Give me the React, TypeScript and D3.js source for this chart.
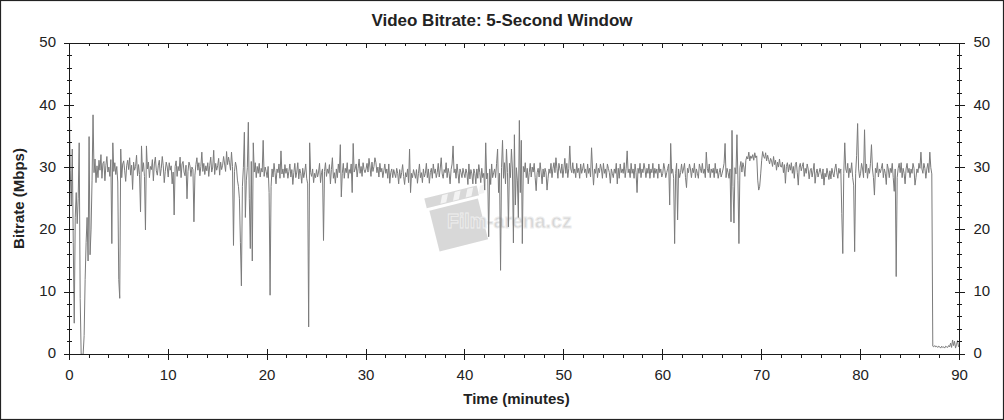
import React from "react";
import * as d3 from "d3";

// Video bitrate (Mbps), one value per 0.1 minute, from 0.0 to 90.0 minutes
const stepMinutes = 0.1;
const bitrateMbps: number[] = [
  40, 29.5, 24, 33, 18, 5, 22, 26, 21, 25,
  34, 9, 0, 0, 0, 3, 12, 18, 22, 15,
  35, 16, 20, 28, 38.5, 29.2, 31.4, 27.6, 30.3, 28.4,
  31.2, 29.6, 32.1, 28.3, 30.7, 31.0, 27.9, 30.4, 31.8, 29.3,
  30.1, 28.6, 31.3, 17.8, 34, 29.4, 30.8, 28.9, 30.2, 27.7,
  12, 9, 33, 28.4, 30.6, 31.1, 29.5, 27.8, 30.3, 31.2,
  29.7, 31.6, 28.8, 30.4, 26.5, 30.9, 29.6, 30.2, 32.0, 28.7,
  30.5, 28.9, 22.9, 33.5, 29.4, 30.8, 28.6, 20, 33.5, 29.8,
  30.9, 28.4, 30.2, 29.7, 31.3, 27.9, 30.6, 31.7, 29.5, 28.8,
  30.4, 31.2, 28.7, 29.9, 31.8, 30.3, 27.6, 29.4, 30.9, 30.1,
  28.5, 30.8, 29.6, 30.3, 27.4, 29.3, 22.4, 30.2, 31.1, 28.6,
  30.2, 29.5, 31.7, 28.4, 30.6, 31.0, 29.3, 28.7, 30.4, 25,
  29.4, 30.9, 30.3, 28.6, 30.1, 29.7, 21.3, 28.8, 30.5, 31.6,
  29.6, 30.8, 28.7, 30.2, 32.5, 29.4, 30.7, 28.9, 30.3, 29.5,
  30.8, 28.6, 30.4, 31.7, 29.3, 30.1, 32.8, 28.9, 30.7, 29.6,
  30.3, 31.5, 28.8, 30.9, 29.7, 30.4, 31.8, 30.6, 29.4, 32.6,
  30.5, 31.7, 30.8, 29.6, 32.5, 30.2, 17.5, 29.4, 30.9, 30.1,
  28, 27, 25, 18, 11, 27, 30, 35.7, 22, 28,
  30, 37.3, 25, 17, 31, 15, 34, 29.3, 30.8, 28.4,
  30.2, 29.1, 30.7, 28.5, 29.9, 29.3, 34.4, 28.6, 30.1, 29.4,
  28.4, 30.2, 26, 9.5, 27, 29.8, 28.5, 30.7, 29.2, 27.4,
  29.8, 29.2, 30.6, 28.3, 32.7, 29.0, 29.8, 28.4, 30.5, 29.1,
  29.9, 28.3, 29.4, 30.6, 28.5, 29.7, 27.3, 29.2, 30.7, 28.4,
  29.3, 30.8, 28.2, 29.8, 29.1, 27.5, 29.9, 28.4, 29.3, 30.6,
  28.3, 27.4, 4.4, 34, 29.2, 28.6, 29.8, 27.6, 29.1, 28.4,
  29.7, 28.5, 29.3, 30.7, 27.6, 29.2, 29.8, 18.3, 29.4, 30.8,
  28.6, 29.8, 29.1, 30.5, 27.4, 29.7, 31.6, 28.3, 29.2, 27.5,
  29.8, 28.4, 30.6, 29.2, 33.7, 25.3, 29.1, 30.7, 28.3, 29.9,
  29.2, 30.8, 28.3, 29.7, 29.1, 30.6, 26, 33.9, 29.3, 29.8,
  30.6, 28.5, 29.9, 31.4, 29.1, 30.2, 28.6, 30.8, 29.7, 29.2,
  29.8, 30.7, 29.3, 31.5, 30.1, 28.6, 30.9, 29.4, 30.2, 31.6,
  30.8, 29.2, 30.1, 28.5, 30.7, 29.3, 29.9, 28.4, 29.5, 30.6,
  29.1, 29.8, 28.3, 30.6, 27.5, 29.2, 29.8, 28.4, 29.7, 29.0,
  28.4, 29.9, 29.1, 27.4, 29.7, 28.3, 29.2, 30.5, 28.6, 27.3,
  29.2, 28.5, 29.8, 27.6, 33, 26, 29.1, 28.4, 29.7, 29.0,
  28.3, 29.7, 27.5, 29.1, 30.6, 28.4, 29.2, 27.6, 29.8, 28.5,
  29.1, 30.7, 28.4, 29.8, 27.5, 29.2, 29.9, 28.3, 30.6, 29.1,
  29.8, 28.4, 29.2, 30.7, 28.5, 29.8, 31.6, 29.0, 28.3, 29.7,
  29.2, 30.8, 28.4, 29.9, 29.1, 27.4, 29.7, 30.6, 33.5, 29.2,
  29.8, 28.3, 30.6, 29.1, 27.5, 29.8, 29.2, 28.4, 29.9, 29.1,
  28.4, 29.8, 29.1, 27.3, 30.6, 28.2, 29.7, 29.0, 27.4, 29.8,
  29.1, 27.4, 29.8, 28.3, 30.5, 29.2, 27.6, 29.9, 28.4, 29.1,
  26.4, 34, 28.2, 29.1, 18.9, 29.8, 27.3, 30.6, 28.4, 29.2,
  29.8, 28.4, 30.7, 33, 26, 29.1, 13.5, 30, 34.4, 28.3,
  30.8, 27.4, 33, 29.2, 20.5, 30.7, 28.4, 33, 29.8, 17.9,
  35.3, 24, 30, 28, 22, 37.6, 26, 34.4, 17.8, 30.2,
  29.3, 30.8, 28.4, 29.9, 27.4, 29.2, 30.7, 28.5, 30.1, 29.3,
  30.7, 28.4, 26.3, 29.2, 29.9, 28.5, 30.8, 29.3, 27.4, 29.8,
  28.5, 29.9, 29.2, 26.4, 28.3, 29.8, 29.1, 30.7, 28.4, 29.9,
  30.8, 29.2, 31.6, 29.9, 28.3, 30.7, 29.8, 29.1, 30.6, 28.4,
  29.8, 31.5, 29.1, 30.7, 28.4, 29.9, 33.5, 29.8, 29.2, 30.8,
  29.1, 29.8, 28.4, 30.7, 29.2, 29.9, 28.3, 30.6, 29.1, 29.8,
  30.7, 29.2, 29.8, 28.4, 30.6, 29.1, 29.9, 28.5, 33.2, 29.8,
  27.2, 29.8, 29.1, 30.7, 28.4, 29.9, 29.2, 30.6, 29.8, 28.3,
  30.7, 29.1, 29.8, 28.4, 30.6, 29.9, 29.2, 27.5, 29.8, 29.1,
  28.4, 29.8, 29.1, 30.7, 27.4, 29.9, 28.3, 30.6, 29.2, 29.8,
  29.1, 30.8, 28.4, 29.9, 32.7, 29.2, 29.8, 28.4, 30.7, 29.1,
  29.8, 28.3, 30.6, 29.2, 26, 29.9, 29.1, 30.7, 28.4, 29.8,
  29.2, 30.7, 29.8, 28.4, 29.9, 29.1, 30.6, 28.3, 29.8, 29.2,
  30.7, 28.4, 29.9, 29.1, 29.8, 28.3, 30.6, 29.2, 29.8, 28.5,
  29.1, 30.7, 29.8, 28.4, 29.2, 29.9, 30.6, 24, 33.9, 29.1,
  29.8, 28.3, 17.8, 29.1, 30.7, 21.6, 29.8, 28.4, 29.2, 30.6,
  29.1, 29.8, 30.7, 28.4, 26.8, 29.9, 29.2, 30.6, 29.8, 28.4,
  29.9, 29.2, 30.7, 28.4, 29.8, 29.1, 28.3, 30.6, 29.9, 29.2,
  30.7, 29.1, 29.8, 28.4, 32.5, 29.9, 29.2, 30.6, 28.4, 29.8,
  29.2, 29.9, 28.4, 30.7, 29.1, 29.8, 28.3, 29.2, 29.9, 28.5,
  29.1, 29.8, 30.7, 33.9, 28.4, 29.9, 29.2, 28.3, 29.8, 21.3,
  36, 27, 21.1, 30, 29, 35.3, 28, 17.8, 30, 31,
  29.3, 30.8, 30.1, 28.6, 31.2, 31.8, 31.4, 32.5, 31.1, 31.9,
  31.5, 32.1, 31.2, 32.4, 31.6, 31.9, 28, 26.4, 27, 29,
  31.2, 32.6, 31.8, 31.5, 32.4, 31.1, 32.0, 31.3, 30.6, 31.5,
  31.1, 30.2, 31.8, 30.5, 31.2, 29.6, 30.9, 30.1, 31.4, 30.2,
  30.1, 30.9, 29.2, 30.5, 27.5, 30.2, 30.8, 29.3, 30.5, 29.6,
  30.8, 29.1, 30.2, 28.3, 30.5, 30.9, 29.2, 27.2, 30.1, 30.7,
  29.5, 30.2, 30.8, 28.6, 29.9, 29.1, 30.6, 29.8, 28.2, 29.5,
  29.9, 28.5, 29.5, 30.7, 27.5, 29.1, 29.8, 28.5, 29.2, 29.9,
  29.1, 28.2, 29.8, 27.2, 29.1, 28.5, 29.9, 29.0, 28.1, 29.5,
  28.2, 29.9, 29.1, 28.5, 29.8, 30.6, 29.2, 28.3, 29.9, 29.1,
  29.8, 22.6, 16.2, 29.1, 34, 29.8, 29.2, 30.7, 28.4, 29.9,
  29.2, 30.8, 28.4, 27.2, 16.5, 29.1, 32, 37.1, 29.8, 28.4,
  29.1, 30.7, 29.8, 28.4, 36.1, 29.2, 30.6, 28.3, 29.9, 29.1,
  30.7, 33.7, 29.8, 28.4, 25.6, 29.9, 29.2, 30.8, 28.5, 29.8,
  29.2, 29.9, 30.7, 28.4, 29.8, 29.1, 27.3, 30.6, 29.8, 28.4,
  29.9, 29.2, 30.7, 28.4, 26.2, 29.8, 12.5, 28.4, 29.9, 30.7,
  29.2, 30.8, 28.4, 29.9, 29.1, 27.4, 29.8, 30.7, 29.2, 29.9,
  28.4, 29.8, 29.1, 30.7, 29.9, 27.2, 28.4, 29.8, 29.2, 30.7,
  29.9, 32.5, 29.8, 29.1, 30.7, 29.9, 28.3, 29.8, 30.7, 29.2,
  32.5, 30, 29, 1.3, 1.2, 1.4, 1.2, 1.3, 1.1, 1.3,
  1.2, 1.0, 1.3, 1.1, 1.2, 1.0, 1.3, 1.2, 1.1, 1.4,
  1.2, 1.8, 1.1, 2.3, 1.4, 2.1, 1.0, 1.6, 2.2, 1.2,
  1.5,
];

const titleText = "Video Bitrate: 5-Second Window";
const xTitle = "Time (minutes)";
const yTitle = "Bitrate (Mbps)";
const xMajorTicks = [0, 10, 20, 30, 40, 50, 60, 70, 80, 90];
const yMajorTicks = [0, 10, 20, 30, 40, 50];
const watermarkText = "Film-arena.cz";

const W = 1004;
const H = 420;
const left = 69.3;
const right = 959.5;
const top = 43.3;
const bottom = 354.3;

export default function App() {
  const x = d3.scaleLinear().domain([0, 90]).range([left, right]);
  const y = d3.scaleLinear().domain([0, 50]).range([bottom, top]);
  const xMinor = d3.range(0, 90.001, 2);
  const yMinor = d3.range(0, 50.001, 2);

  const line = d3
    .line<number>()
    .x((_, i) => x(i * stepMinutes))
    .y((v) => y(v));

  const axisColor = "#1a1a1a";
  const font = "'Liberation Sans', Arial, sans-serif";

  return (
    <svg
      width={W}
      height={H}
      style={{ position: "absolute", left: 0, top: 0, background: "#fff" }}
      fontFamily={font}
    >
      <rect x={0} y={0} width={W} height={H} fill="#fff" />
      <rect x={0.5} y={0.5} width={W - 1} height={H - 1} fill="none" stroke="#222" strokeWidth={1.2} />

      {/* watermark */}
      <g opacity={0.85}>
        <g transform="translate(458,218) rotate(-14)">
          <rect x={-26} y={-14} width={50} height={42} fill="#d2d2d2" />
          <rect x={-28} y={-27} width={54} height={10} fill="#d2d2d2" />
          {[0, 1, 2, 3].map((k) => (
            <rect key={k} x={-22 + k * 13} y={-26} width={6} height={8} fill="#f2f2f2" transform={`skewX(-25)`} />
          ))}
        </g>
        <text
          x={447}
          y={228}
          fontSize={19.5}
          fontWeight="bold"
          fill="#d0d0d0"
          stroke="#ececec"
          strokeWidth={0.8}
        >
          {watermarkText}
        </text>
      </g>

      {/* data line */}
      <path d={line(bitrateMbps) || ""} fill="none" stroke="#7b7b7b" strokeWidth={1} strokeLinejoin="round" />

      {/* axes frame */}
      <g stroke={axisColor} strokeWidth={1} shapeRendering="crispEdges">
        <line x1={left} x2={right} y1={top} y2={top} />
        <line x1={left} x2={right} y1={bottom} y2={bottom} />
        <line x1={left} x2={left} y1={top} y2={bottom} />
        <line x1={right} x2={right} y1={top} y2={bottom} />
        {xMinor.map((t) => (
          <g key={"xm" + t}>
            <line x1={x(t)} x2={x(t)} y1={bottom} y2={bottom + 4} />
            <line x1={x(t)} x2={x(t)} y1={top} y2={top + 2.5} />
          </g>
        ))}
        {xMajorTicks.map((t) => (
          <g key={"xM" + t}>
            <line x1={x(t)} x2={x(t)} y1={bottom - 5} y2={bottom + 6} />
            <line x1={x(t)} x2={x(t)} y1={top} y2={top + 5} />
          </g>
        ))}
        {yMinor.map((t) => (
          <g key={"ym" + t}>
            <line x1={left - 2.5} x2={left + 3} y1={y(t)} y2={y(t)} />
            <line x1={right - 3} x2={right + 2.5} y1={y(t)} y2={y(t)} />
          </g>
        ))}
        {yMajorTicks.map((t) => (
          <g key={"yM" + t}>
            <line x1={left - 5} x2={left + 5} y1={y(t)} y2={y(t)} />
            <line x1={right - 5} x2={right + 5} y1={y(t)} y2={y(t)} />
          </g>
        ))}
      </g>

      {/* tick labels */}
      <g fontSize={15} fill="#222">
        {yMajorTicks.map((t) => (
          <text key={"yl" + t} x={56} y={y(t) + 4} textAnchor="end">
            {t}
          </text>
        ))}
        {yMajorTicks.map((t) => (
          <text key={"yr" + t} x={973.5} y={y(t) + 4} textAnchor="start">
            {t}
          </text>
        ))}
        {xMajorTicks.map((t) => (
          <text key={"xl" + t} x={x(t)} y={bottom + 25.5} textAnchor="middle">
            {t}
          </text>
        ))}
      </g>

      {/* titles */}
      <text x={502} y={26} textAnchor="middle" fontSize={17} fontWeight="bold" fill="#222">
        {titleText}
      </text>
      <text x={516.5} y={403.5} textAnchor="middle" fontSize={15} fontWeight="bold" fill="#222">
        {xTitle}
      </text>
      <text
        transform={`translate(24,198.5) rotate(-90)`}
        textAnchor="middle"
        fontSize={15}
        fontWeight="bold"
        fill="#222"
      >
        {yTitle}
      </text>
    </svg>
  );
}
